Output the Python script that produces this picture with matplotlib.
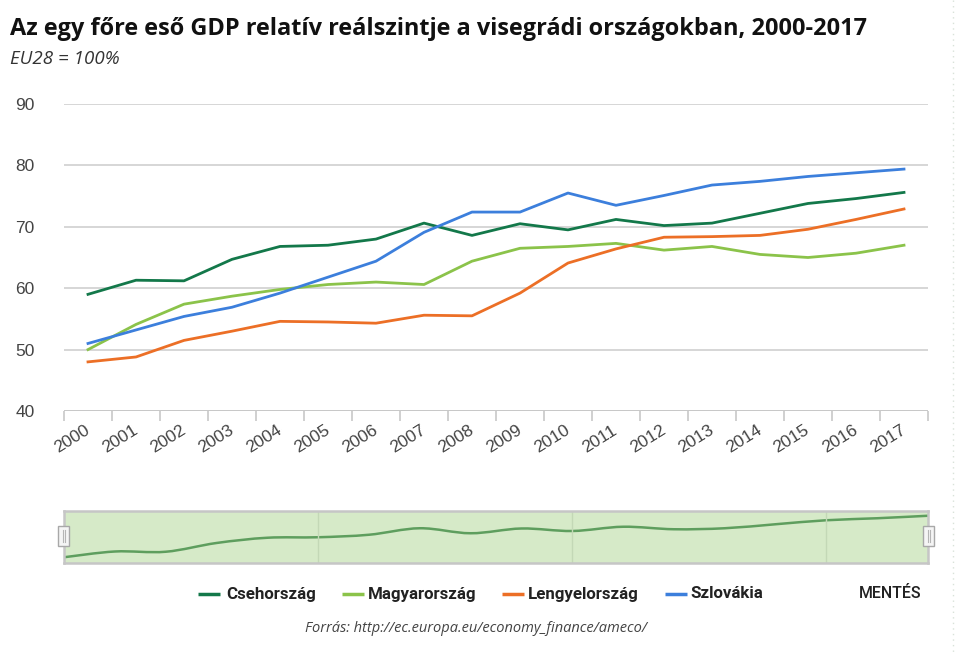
import numpy as np
import matplotlib
matplotlib.use('Agg')
import matplotlib.pyplot as plt
from matplotlib.path import Path
from matplotlib.patches import PathPatch, Rectangle

# DATA
YEARS = [str(y) for y in range(2000, 2018)]
CSEH = [59.0, 61.3, 61.2, 64.7, 66.8, 67.0, 68.0, 70.6, 68.6, 70.5, 69.5, 71.2, 70.2, 70.6, 72.2, 73.8, 74.6, 75.6]
MAGYAR = [50.0, 54.1, 57.4, 58.7, 59.8, 60.6, 61.0, 60.6, 64.4, 66.5, 66.8, 67.3, 66.2, 66.8, 65.5, 65.0, 65.7, 67.0]
LENGYEL = [48.0, 48.8, 51.5, 53.0, 54.6, 54.5, 54.3, 55.6, 55.5, 59.2, 64.1, 66.4, 68.3, 68.4, 68.6, 69.6, 71.2, 72.9]
SZLOVAK = [51.0, 53.2, 55.4, 56.9, 59.2, 61.8, 64.4, 69.1, 72.4, 72.4, 75.5, 73.5, 75.1, 76.8, 77.4, 78.2, 78.8, 79.4]
SERIES_NAMES = ['Csehország', 'Magyarország', 'Lengyelország', 'Szlovákia']
COLORS = ['#13784a', '#8bc34a', '#ec6f26', '#3c7fdc']
Y_TICKS = [40, 50, 60, 70, 80, 90]

TITLE = 'Az egy főre eső GDP relatív reálszintje a visegrádi országokban, 2000-2017'
SUBTITLE = 'EU28 = 100%'
SOURCE = 'Forrás: http://ec.europa.eu/economy_finance/ameco/'

W, H = 960, 653
def fx(px):
    return px / W
def fy(py):
    return 1 - py / H

fig = plt.figure(figsize=(9.6, 6.53), dpi=100)
fig.patch.set_facecolor('white')

# ---------------- main chart ----------------
ax = fig.add_axes([fx(64), fy(411), fx(928) - fx(64), fy(104) - fy(411)])
x = np.arange(len(YEARS))
for vals, col in zip([CSEH, MAGYAR, LENGYEL, SZLOVAK], COLORS):
    ax.plot(x, vals, color=col, lw=2.0, solid_joinstyle='round', zorder=3)
ax.set_xlim(-0.5, len(YEARS) - 0.5)
ax.set_ylim(40, 90)
for t in Y_TICKS:
    ax.axhline(t, color='#bdbdbd' if t == 40 else '#d0d0d0', lw=1.2, zorder=1)
for s in ax.spines.values():
    s.set_visible(False)
ax.set_yticks(Y_TICKS)
ax.set_yticklabels([str(t) for t in Y_TICKS], fontsize=12.5, color='#444444', family='Liberation Sans')
ax.tick_params(axis='y', length=0, pad=21)
ax.set_xticks(x)
ax.set_xticklabels(YEARS, fontsize=12.5, color='#444444', family='Liberation Sans',
                   rotation=32, ha='right', va='center', rotation_mode='anchor')
ax.set_xticks(np.arange(len(YEARS) + 1) - 0.5, minor=True)
ax.tick_params(axis='x', which='major', length=0, pad=13)
ax.tick_params(axis='x', which='minor', length=7, width=1.2, color='#c8c8c8', direction='out')

# ---------------- navigator ----------------
nav = fig.add_axes([fx(64), fy(563), fx(928) - fx(64), fy(511) - fy(563)])
nav.set_facecolor('#d6eac8')
nav.set_xlim(0, len(YEARS) - 1)
nav.set_ylim(56.7, 77.5)
nav.set_xticks([])
nav.set_yticks([])
for s in nav.spines.values():
    s.set_color('#c6c6c6')
    s.set_linewidth(1.8)
for yr in [5, 10, 15]:
    nav.axvline(yr, color='#c3d8b6', lw=1)
# smooth curve (Catmull-Rom -> Bezier) through the first series
pts = np.column_stack([x, CSEH]).astype(float)
ext = np.vstack([pts[0], pts, pts[-1]])
verts = [tuple(pts[0])]
codes = [Path.MOVETO]
for i in range(1, len(ext) - 2):
    p0, p1, p2, p3 = ext[i - 1], ext[i], ext[i + 1], ext[i + 2]
    c1 = p1 + (p2 - p0) / 6.0
    c2 = p2 - (p3 - p1) / 6.0
    verts += [tuple(c1), tuple(c2), tuple(p2)]
    codes += [Path.CURVE4] * 3
nav.add_patch(PathPatch(Path(verts, codes), facecolor='none', edgecolor='#5e9e5e', lw=1.8))

# overlay in pixel coordinates for decorations
over = fig.add_axes([0, 0, 1, 1], zorder=10)
over.set_xlim(0, W)
over.set_ylim(H, 0)
over.axis('off')
over.patch.set_alpha(0)
for hx in [58, 923]:
    over.add_patch(Rectangle((hx, 526), 11, 20, facecolor='#f5f5f5', edgecolor='#a8a8a8', lw=1))
    over.plot([hx + 4.5, hx + 4.5], [530, 542], color='#b5b5b5', lw=0.8)
    over.plot([hx + 6.5, hx + 6.5], [530, 542], color='#b5b5b5', lw=0.8)

# legend
leg_pos = [(198, 226), (342, 368), (502, 528), (665, 690)]
for (lx, tx), name, col in zip(leg_pos, SERIES_NAMES, COLORS):
    over.plot([lx, lx + 22], [594, 594], color=col, lw=2.5, solid_capstyle='butt')
    over.text(tx, 594, name, fontsize=12.2, fontweight='bold', family='Roboto',
              color='#222222', ha='left', va='center')
over.text(921, 593, 'MENTÉS', fontsize=11.5, fontweight='medium', family='Roboto', color='#222222',
          ha='right', va='center')

# right edge faint border
over.plot([953, 953], [0, H], color='#d9e2d9', lw=1, ls=(0, (1, 3)))

# titles
fig.text(fx(10), fy(35), TITLE, fontsize=16.9, fontweight='bold', family='Open Sans',
         color='#111111', ha='left', va='baseline')
fig.text(fx(10), fy(64), SUBTITLE, fontsize=13.5, style='italic', family='Open Sans',
         color='#333333', ha='left', va='baseline')
fig.text(fx(476), fy(632), SOURCE, fontsize=10.5, style='italic', family='Open Sans',
         color='#444444', ha='center', va='baseline')

plt.savefig('out.png', dpi=100)
